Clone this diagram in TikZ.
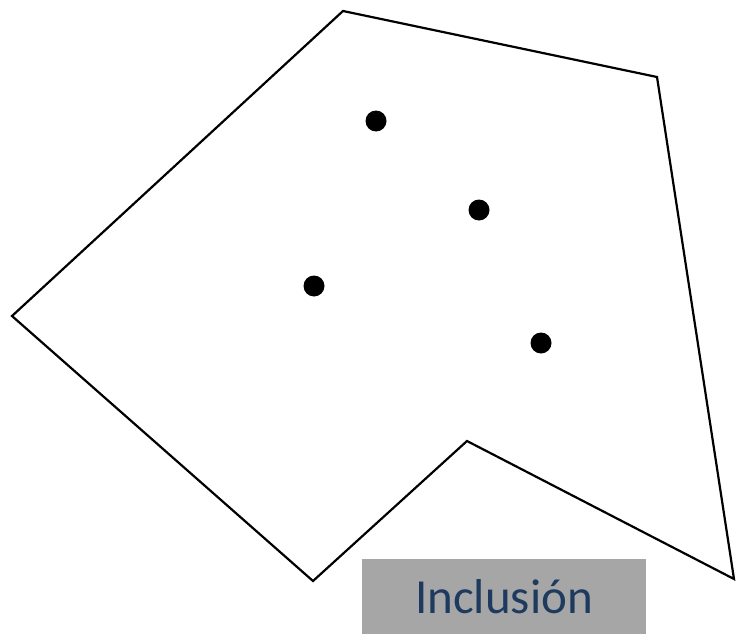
\documentclass[tikz,border=0pt]{standalone}
\usepackage{fontspec}
\setmainfont{Carlito}
\definecolor{boxgray}{HTML}{A6A6A6}
\definecolor{labelblue}{HTML}{1F3A5F}
\begin{document}
\begin{tikzpicture}[x=1pt,y=-1pt]
    \useasboundingbox (0,0) rectangle (736,634);
    \coordinate (top) at (343,11);
    \coordinate (topright) at (657,77);
    \coordinate (lowright) at (734,579);
    \coordinate (notch) at (467,441);
    \coordinate (bottom) at (313,581);
    \coordinate (left) at (12,316);
    \draw[line width=2.2pt, line join=miter] (top) -- (topright) -- (lowright) -- (notch) -- (bottom) -- (left) -- cycle;
    \node[circle, fill=black, inner sep=0pt, minimum size=21pt] (p1) at (376,121) {};
    \node[circle, fill=black, inner sep=0pt, minimum size=21pt] (p2) at (479,210) {};
    \node[circle, fill=black, inner sep=0pt, minimum size=21pt] (p3) at (314,286) {};
    \node[circle, fill=black, inner sep=0pt, minimum size=21pt] (p4) at (541,343) {};
    \fill[boxgray] (362,559) rectangle (646,634);
    \node[text=labelblue, font=\fontsize{49}{54}\selectfont, anchor=base] (label) at (504,613) {Inclusión};
  \end{tikzpicture}
\end{document}
